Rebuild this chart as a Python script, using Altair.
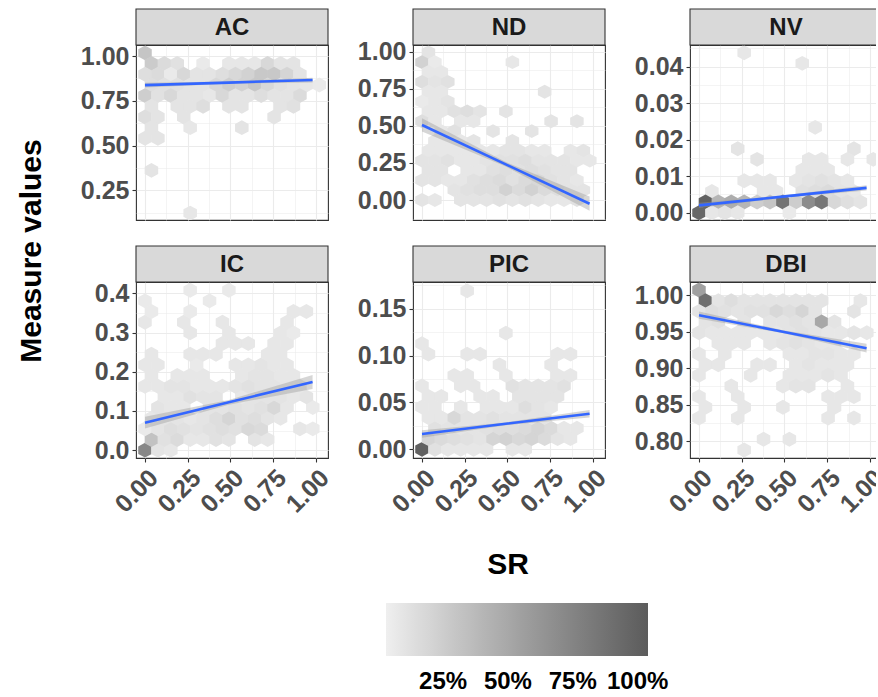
import altair as alt
import pandas as pd

FONT = "Liberation Sans"
W = 192
XDOM = [-0.0526, 1.0702]
DX = 0.0755  # hexbin width along SR

X_TICKS = [0, 0.25, 0.5, 0.75, 1.0]

# facet name -> y axis major ticks, y domain, label format
Y_TICKS = {
    "AC": [0.25, 0.5, 0.75, 1.0],
    "ND": [0, 0.25, 0.5, 0.75, 1.0],
    "NV": [0, 0.01, 0.02, 0.03, 0.04],
    "IC": [0, 0.1, 0.2, 0.3, 0.4],
    "PIC": [0, 0.05, 0.1, 0.15],
    "DBI": [0.8, 0.85, 0.9, 0.95, 1.0],
}
Y_DOM = {
    "AC": [0.084, 1.062], "ND": [-0.135, 1.047], "NV": [-0.002, 0.0459],
    "IC": [-0.020, 0.429], "PIC": [-0.0093, 0.1785], "DBI": [0.777, 1.018],
}
Y_FMT = {"AC": ".2f", "ND": ".2f", "NV": ".2f", "IC": ".1f", "PIC": ".2f", "DBI": ".2f"}

# hexbin grid: first row centre and row step (measure units)
HEX_Y0 = {"AC": 0.1225, "ND": 0.0, "NV": 0.0, "IC": 0.0, "PIC": 0.0, "DBI": 0.788}
HEX_DY = {"AC": 0.0597, "ND": 0.0665, "NV": 0.00292, "IC": 0.0272, "PIC": 0.01127, "DBI": 0.0146}

# hex bins: row -> [(column in bin widths, % count)]
AC_bins = {
    15: [(0, 30)],
    14: [(0.5, 26), (1.5, 16), (2.5, 12), (4.5, 6), (6.5, 8), (7.5, 8), (8.5, 8), (9.5, 18), (10.5, 10), (11.5, 10)],
    13: [(0, 14), (1, 16), (2, 6), (3, 18), (4, 10), (5, 10), (6, 14), (7, 18), (8, 22), (9, 28), (10, 28), (11, 20), (12, 10)],
    12: [(0.5, 14), (1.5, 12), (2.5, 12), (3.5, 10), (4.5, 10), (5.5, 18), (6.5, 24), (7.5, 22), (8.5, 28), (9.5, 18), (10.5, 12), (11.5, 10), (12.5, 8), (13.5, 6)],
    11: [(0, 24), (1, 12), (2, 18), (3, 10), (4, 10), (5, 8), (6, 18), (7, 10), (8, 10), (9, 14), (10, 10), (11, 10), (12, 16)],
    10: [(0.5, 10), (2.5, 10), (3.5, 10), (4.5, 14), (6.5, 10), (7.5, 10), (10.5, 10), (11.5, 12)],
    9: [(0, 14), (1, 10), (3, 10), (10, 10)],
    8: [(0.5, 10), (3.5, 8), (7.5, 10)],
    7: [(0, 10), (1, 10)],
    4: [(0.5, 10)],
    0: [(3.5, 8)],
}
ND_bins = {
    15: [(0.5, 10)],
    14: [(0, 22), (1, 6), (7, 8)],
    13: [(0.5, 8), (1.5, 8)],
    12: [(0, 14), (1, 10), (2, 12)],
    11: [(0.5, 8), (1.5, 8), (9.5, 10)],
    10: [(0, 6), (1, 8), (2, 10)],
    9: [(0.5, 8), (1.5, 8), (2.5, 12), (3.5, 14), (4.5, 10), (6.5, 10)],
    8: [(0, 14), (1, 8), (3, 8), (4, 8), (10, 10), (12, 10)],
    7: [(1.5, 8), (2.5, 12), (5.5, 10), (8.5, 10)],
    6: [(1, 8), (2, 8), (3, 8), (4, 10), (7, 10)],
    5: [(0.5, 8), (1.5, 8), (2.5, 8), (3.5, 8), (4.5, 8), (5.5, 8), (6.5, 10), (7.5, 10), (8.5, 8), (9.5, 8), (11.5, 8), (12.5, 10)],
    4: [(0, 10), (1, 10), (2, 12), (3, 8), (4, 8), (5, 10), (6, 12), (7, 12), (8, 14), (9, 10), (10, 10), (11, 10), (12, 8), (13, 8)],
    3: [(0.5, 10), (1.5, 10), (3.5, 8), (4.5, 8), (5.5, 12), (6.5, 14), (7.5, 12), (8.5, 14), (9.5, 12), (10.5, 10), (11.5, 10)],
    2: [(0, 10), (1, 10), (2, 8), (3, 8), (4, 12), (5, 14), (6, 16), (7, 12), (8, 16), (9, 18), (10, 12), (11, 10), (12, 8)],
    1: [(2.5, 10), (3.5, 12), (4.5, 14), (5.5, 14), (6.5, 22), (7.5, 16), (8.5, 22), (9.5, 16), (10.5, 14), (11.5, 10), (12.5, 10)],
    0: [(0, 10), (1, 8), (3, 10), (4, 10), (5, 10), (6, 12), (7, 10), (8, 12), (9, 10), (10, 8), (11, 8), (12, 12)],
}
NV_bins = {
    15: [(3.5, 8)],
    14: [(8, 8)],
    8: [(9, 8)],
    6: [(3, 10), (12, 10)],
    5: [(4.5, 10), (8.5, 8), (9.5, 8), (11.5, 8), (13.5, 8)],
    4: [(8, 8), (9, 8), (10, 8)],
    3: [(3.5, 8), (4.5, 8), (5.5, 8), (7.5, 8), (8.5, 10), (9.5, 12), (10.5, 10), (11.5, 8)],
    2: [(1, 8), (5, 8), (6, 8), (8, 12), (9, 14), (10, 16), (11, 10), (12, 8)],
    1: [(0.5, 100), (1.5, 41), (2.5, 46), (3.5, 41), (4.5, 25), (5.5, 30), (6.5, 86), (7.5, 25), (8.5, 69), (9.5, 84), (10.5, 18), (11.5, 13), (12.5, 10)],
    0: [(0, 95), (1, 8), (2, 10), (3, 8), (7, 6)],
}
IC_bins = {
    0: [(0, 72), (1, 10), (2, 8)],
    1: [(0.5, 32), (1.5, 12), (2.5, 16), (3.5, 8), (4.5, 8), (5.5, 12), (6.5, 10), (8.5, 10), (9.5, 8)],
    2: [(0, 6), (1, 10), (2, 14), (3, 12), (4, 10), (5, 12), (6, 14), (7, 12), (8, 18), (9, 16), (12, 8), (13, 6)],
    3: [(0.5, 8), (1.5, 10), (2.5, 10), (3.5, 8), (4.5, 10), (5.5, 14), (6.5, 20), (7.5, 12), (8.5, 14), (9.5, 10), (10.5, 8)],
    4: [(1, 10), (2, 8), (3, 8), (5, 10), (6, 10), (7, 12), (8, 10), (9, 12), (10, 18), (11, 8), (13, 6)],
    5: [(1.5, 8), (2.5, 8), (3.5, 12), (4.5, 10), (5.5, 10), (7.5, 8), (8.5, 10), (9.5, 10), (10.5, 10), (11.5, 8), (12.5, 10)],
    6: [(0, 8), (1, 8), (2, 10), (3, 10), (4, 8), (5, 8), (6, 8), (7, 10), (8, 12), (9, 10), (10, 10), (11, 8), (12, 8)],
    7: [(0.5, 8), (2.5, 8), (3.5, 8), (4.5, 8), (7.5, 8), (8.5, 10), (9.5, 10), (10.5, 8), (11.5, 8)],
    8: [(0, 8), (1, 8), (4, 6), (7, 8), (8, 8), (9, 10), (10, 8), (11, 8)],
    9: [(0.5, 8), (3.5, 8), (4.5, 8), (5.5, 8), (9.5, 8), (10.5, 8)],
    10: [(6, 8), (7, 8), (8, 8), (10, 8), (11, 8)],
    11: [(3.5, 8), (6.5, 8), (10.5, 8), (11.5, 6)],
    12: [(0, 8), (3, 8), (6, 8), (11, 8)],
    13: [(0.5, 6), (3.5, 6), (11.5, 8), (12.5, 8)],
    14: [(0, 6), (5, 6)],
    15: [(3.5, 6), (6.5, 6)],
}
PIC_bins = {
    0: [(0, 100), (1, 12), (2, 8), (3, 8), (4, 8), (5, 8), (7, 8), (8, 8)],
    1: [(0.5, 20), (1.5, 16), (2.5, 14), (3.5, 12), (4.5, 10), (5.5, 20), (6.5, 22), (7.5, 18), (8.5, 20), (9.5, 16), (10.5, 10), (11.5, 8)],
    2: [(1, 12), (2, 10), (3, 10), (4, 10), (5, 12), (6, 14), (7, 14), (8, 16), (9, 20), (10, 16), (11, 8), (12, 8)],
    3: [(0.5, 8), (1.5, 8), (2.5, 18), (3.5, 10), (4.5, 10), (5.5, 12), (6.5, 10), (7.5, 10), (8.5, 10), (9.5, 10)],
    4: [(0, 8), (1, 8), (3, 8), (5, 8), (6, 8), (7, 8), (8, 14), (9, 10), (10, 8)],
    5: [(0.5, 8), (1.5, 8), (4.5, 8), (5.5, 8), (7.5, 10), (8.5, 10), (9.5, 10), (10.5, 10)],
    6: [(0, 8), (3, 8), (4, 8), (7, 12), (8, 10), (9, 10), (10, 10), (11, 12)],
    7: [(2.5, 8), (3.5, 8), (6.5, 8), (10.5, 8), (11.5, 8)],
    8: [(6, 8), (10, 8)],
    9: [(0.5, 8), (3.5, 8), (4.5, 8), (10.5, 8), (11.5, 8)],
    10: [(0, 8)],
    11: [(6.5, 8)],
    15: [(3.5, 8)],
}
DBI_bins = {
    15: [(0, 55)],
    14: [(0.5, 90), (1.5, 10), (2.5, 14), (3.5, 10), (4.5, 10), (5.5, 10), (6.5, 10), (7.5, 10), (8.5, 10), (9.5, 10), (12.5, 8)],
    13: [(0, 10), (1, 14), (2, 12), (3, 10), (4, 12), (5, 12), (6, 18), (7, 14), (8, 20), (9, 10), (12, 10)],
    12: [(0.5, 10), (1.5, 12), (3.5, 10), (5.5, 10), (6.5, 10), (7.5, 12), (8.5, 10), (9.5, 50), (10.5, 10)],
    11: [(0, 10), (1, 8), (2, 8), (3, 8), (4, 8), (5, 8), (6, 8), (7, 10), (8, 12), (9, 10), (10, 8), (11, 8), (12, 10), (13, 8)],
    10: [(1.5, 8), (2.5, 8), (3.5, 8), (5.5, 8), (6.5, 10), (7.5, 12), (8.5, 10), (9.5, 8), (10.5, 8)],
    9: [(0, 8), (2, 8), (7, 8), (8, 8), (9, 10), (10, 10), (11, 8), (12, 8)],
    8: [(0.5, 8), (1.5, 8), (4.5, 8), (5.5, 8), (7.5, 8), (8.5, 10), (9.5, 8), (10.5, 8), (11.5, 8)],
    7: [(0, 8), (4, 8), (7, 8), (8, 8), (9, 8), (10, 10), (11, 8)],
    6: [(2.5, 8), (6.5, 8), (7.5, 10), (8.5, 10), (11.5, 8)],
    5: [(0, 8), (3, 8), (10, 8), (11, 8), (12, 8)],
    4: [(0.5, 8), (3.5, 8), (6.5, 8), (10.5, 8)],
    3: [(0, 8), (3, 8), (10, 8), (12, 8)],
    1: [(5, 8), (7, 8)],
    0: [(3.5, 8)],
}
BINS = {"AC": AC_bins, "ND": ND_bins, "NV": NV_bins, "IC": IC_bins, "PIC": PIC_bins, "DBI": DBI_bins}

# linear smooth: SR positions, fitted values and CI half widths
FIT_X = [0.0, 0.49, 0.98]
FIT_Y = {
    "AC": [0.838, 0.852, 0.866], "ND": [0.507, 0.241, -0.025], "NV": [0.0020, 0.0044, 0.0068],
    "IC": [0.070, 0.122, 0.174], "PIC": [0.0163, 0.0272, 0.038], "DBI": [0.9726, 0.950, 0.9274],
}
FIT_SE = {
    "AC": [0.013, 0.006, 0.013], "ND": [0.045, 0.015, 0.048], "NV": [0.0007, 0.0003, 0.0007],
    "IC": [0.015, 0.006, 0.018], "PIC": [0.004, 0.0015, 0.004], "DBI": [0.005, 0.002, 0.006],
}

LEGEND_TICKS = [25, 50, 75, 100]
COLOR_DOM = [3, 104]
COLOR_RANGE = ["#EFEFEF", "#5C5C5C"]

HEIGHTS = {"AC": 175, "ND": 175, "NV": 175, "IC": 176, "PIC": 176, "DBI": 176}


def with_minor(major, dom):
    step = major[1] - major[0]
    vals = []
    for m in major:
        for mm in (m - step / 2, m + step / 2):
            mm = round(mm, 6)
            if dom[0] <= mm <= dom[1] and all(abs(mm - q) > 1e-9 for q in vals + list(major)):
                vals.append(mm)
    return sorted([float(v) for v in major] + vals)


def test_expr(major):
    return "indexof([" + ",".join(repr(float(v)) for v in major) + "], datum.value) >= 0"


def make_axis(major, dom, fmt, show_labels, orient):
    t = test_expr(major)
    kw = dict(
        values=with_minor(major, dom), tickCount=40, title=None, domain=False, grid=True,
        gridColor="#EBEBEB",
        gridWidth={"condition": {"test": t, "value": 1.1}, "value": 0.55},
        labelOverlap=False, labelFlush=False,
    )
    if show_labels:
        kw.update(
            labels=True, ticks=True, tickColor="#333333", tickSize=4, tickWidth=1.1,
            tickOpacity={"condition": {"test": t, "value": 1}, "value": 0},
            labelExpr=f"{t} ? format(datum.value, '{fmt}') : ''",
            labelFont=FONT, labelFontSize=25, labelFontWeight="bold", labelColor="#4D4D4D",
            labelPadding=3,
        )
        if orient == "bottom":
            kw.update(labelAngle=315, labelAlign="right", labelBaseline="top")
    else:
        kw.update(labels=False, ticks=False)
    return alt.Axis(**kw)


LEGEND = alt.Legend(
    orient="none", legendX=250, legendY=558, direction="horizontal", title=None,
    gradientLength=262, gradientThickness=53, gradientStrokeWidth=0,
    values=LEGEND_TICKS, labelExpr="datum.value + '%'",
    labelFont=FONT, labelFontSize=24, labelFontWeight="bold", labelColor="black",
    labelOffset=14, labelOverlap=False,
)


def panel(name, bottom_row):
    h = HEIGHTS[name]
    dom = Y_DOM[name]
    recs = []
    for r, items in BINS[name].items():
        for c, v in items:
            recs.append({"SR": c * DX, "value": HEX_Y0[name] + r * HEX_DY[name], "pct": v})
    df = pd.DataFrame(recs)

    # hexagon geometry in pixels
    px_y = h / (dom[1] - dom[0])
    px_x = W / (XDOM[1] - XDOM[0])
    row_px = HEX_DY[name] * px_y
    s = 2 * row_px / 3 + 0.35
    k = (DX * px_x / 2 + 0.3) / s
    path = f"M0,-1L{k:.4f},-0.5L{k:.4f},0.5L0,1L{-k:.4f},0.5L{-k:.4f},-0.5Z"
    size = 4 * s * s

    xs = alt.Scale(domain=XDOM, nice=False, zero=False)
    ys = alt.Scale(domain=dom, nice=False, zero=False)
    xaxis = make_axis(X_TICKS, XDOM, ".2f", bottom_row, "bottom")
    yaxis = make_axis(Y_TICKS[name], dom, Y_FMT[name], True, "left")

    hexes = alt.Chart(df).mark_point(
        shape=path, size=size, filled=True, opacity=1, strokeWidth=0, clip=True
    ).encode(
        x=alt.X("SR:Q", scale=xs, axis=xaxis),
        y=alt.Y("value:Q", scale=ys, axis=yaxis),
        color=alt.Color("pct:Q", scale=alt.Scale(domain=COLOR_DOM, range=COLOR_RANGE), legend=LEGEND),
    )

    fit = pd.DataFrame({
        "SR": FIT_X,
        "fit": FIT_Y[name],
        "lo": [f - e for f, e in zip(FIT_Y[name], FIT_SE[name])],
        "hi": [f + e for f, e in zip(FIT_Y[name], FIT_SE[name])],
    })
    band = alt.Chart(fit).mark_area(color="#999999", opacity=0.4, clip=True).encode(
        x=alt.X("SR:Q", scale=xs), y=alt.Y("lo:Q", scale=ys), y2="hi:Q"
    )
    line = alt.Chart(fit).mark_line(color="#3366FF", strokeWidth=2.6, clip=True).encode(
        x=alt.X("SR:Q", scale=xs), y=alt.Y("fit:Q", scale=ys)
    )

    strip_data = alt.Data(values=[{"facet": name}])
    strip = alt.Chart(strip_data).mark_rect(fill="#D9D9D9", stroke="#333333", strokeWidth=1.1).encode(
        x=alt.value(0), x2=alt.value(W), y=alt.value(-36), y2=alt.value(0)
    )
    strip_txt = alt.Chart(strip_data).mark_text(
        font=FONT, fontSize=24, fontWeight="bold", color="#1A1A1A", baseline="middle", align="center"
    ).encode(x=alt.value(W / 2), y=alt.value(-17), text="facet:N")

    layers = [hexes, band, line, strip, strip_txt]
    if name == "IC":
        layers.append(
            alt.Chart(alt.Data(values=[{"t": "Measure values"}])).mark_text(
                font=FONT, fontSize=30, fontWeight="bold", color="black", angle=270,
                align="center", baseline="alphabetic",
            ).encode(x=alt.value(-95), y=alt.value(-31), text="t:N")
        )
    if name == "PIC":
        layers.append(
            alt.Chart(alt.Data(values=[{"t": "SR"}])).mark_text(
                font=FONT, fontSize=30, fontWeight="bold", color="black",
                align="center", baseline="alphabetic",
            ).encode(x=alt.value(95), y=alt.value(292), text="t:N")
        )
    return alt.layer(*layers).properties(width=W, height=h)


chart = alt.concat(
    panel("AC", False), panel("ND", False), panel("NV", False),
    panel("IC", True), panel("PIC", True), panel("DBI", True),
    columns=3, spacing={"row": 62, "column": 85}, bounds="flush",
).properties(
    padding={"left": 16, "top": 7, "right": -13, "bottom": 0},
    background="white",
).configure_view(stroke="#333333", strokeWidth=1.1)

chart.save("out.html", embed_options={"renderer": "svg", "actions": False})
